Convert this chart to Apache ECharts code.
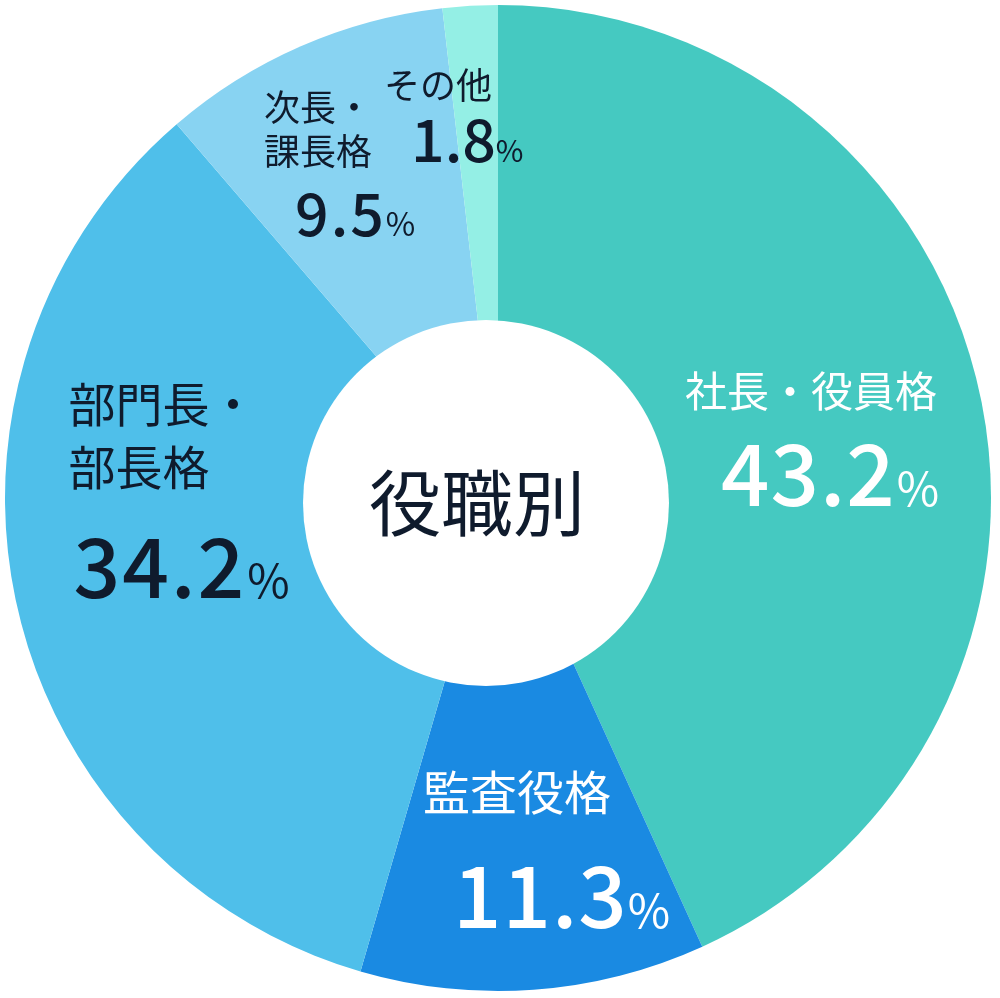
<!DOCTYPE html>
<html><head><meta charset="utf-8">
<script src="https://cdn.jsdelivr.net/npm/echarts@6/dist/echarts.min.js"></script>
<style>html,body{margin:0;padding:0;background:#fff}#c{width:1000px;height:998px}</style>
</head><body><div id="c"></div>
<script>
// ---- data ----
const categories = ['社長・役員格', '監査役格', '部門長・部長格', '次長・課長格', 'その他'];
const labelLines = [['社長・役員格'], ['監査役格'], ['部門長・', '部長格'], ['次長・', '課長格'], ['その他']];
const shares = [43.2, 11.3, 34.2, 9.5, 1.8];
const centerTitle = '役職別';
const percentSign = '%';

// ---- styles ----
const sliceColors = ['#45C9C1', '#1A8AE2', '#4FBFEA', '#88D3F2', '#94EFE5'];
const FONT = '"Noto Sans CJK JP", "Noto Sans", sans-serif';
const PCT_FONT = '"Liberation Sans Narrow", "Noto Sans CJK JP", sans-serif';
const DARK = '#0f1b2d';
const labelStyle = [
  {x: 685, y: 366.5, color: '#ffffff', nameSize: 42, nameLH: 50, valSize: 85, valLH: 115, indent: 36, pctSize: 46, ls: 1, pgap: 1},
  {x: 423, y: 764.5, color: '#ffffff', nameSize: 47, nameLH: 56, valSize: 85, valLH: 151, indent: 30, pctSize: 46, ls: 1, pgap: 0},
  {x: 68.5, y: 372.5, color: DARK, nameSize: 47, nameLH: 63, valSize: 82, valLH: 137, indent: 5, pctSize: 46, ls: 2, pgap: 1},
  {x: 264, y: 85.5, color: DARK, nameSize: 36, nameLH: 44, valSize: 59, valLH: 80, indent: 31, pctSize: 32, ls: 2, pgap: 0},
  {x: 384, y: 63, color: DARK, nameSize: 36, nameLH: 44, valSize: 59, valLH: 66, indent: 27, pctSize: 30, ls: 0, pgap: 0}
];

function richFor(s) {
  const dy = 0.365 * (s.valSize - s.pctSize);
  return {
    n: {fontSize: s.nameSize, lineHeight: s.nameLH, color: s.color, fontFamily: FONT},
    v0: {fontSize: s.valSize, lineHeight: s.valLH, color: s.color, fontFamily: FONT, fontWeight: 500, padding: [0, s.ls, 0, s.indent]},
    v: {fontSize: s.valSize, lineHeight: s.valLH, color: s.color, fontFamily: FONT, fontWeight: 500, padding: [0, s.ls, 0, 0]},
    p: {fontSize: s.pctSize, lineHeight: s.pctSize, color: s.color, fontFamily: PCT_FONT, padding: [2 * dy, 0, 0, s.pgap]}
  };
}

const pieData = categories.map((c, i) => ({
  name: c,
  value: shares[i],
  itemStyle: {color: sliceColors[i]},
  label: {rich: richFor(labelStyle[i])}
}));

const chart = echarts.init(document.getElementById('c'), null, {renderer: 'canvas'});
chart.setOption({
  animation: false,
  series: [
    {
      type: 'pie',
      center: [498, 498],
      radius: [0, 493],
      startAngle: 90,
      clockwise: true,
      avoidLabelOverlap: false,
      silent: true,
      itemStyle: {borderWidth: 0},
      label: {
        show: true,
        position: 'inside',
        formatter: function (p) {
          const i = p.dataIndex;
          const nameStr = labelLines[i].map(t => '{n|' + t + '}').join('\n');
          const chars = shares[i].toFixed(1).split('');
          const valStr = chars.map((ch, k) => '{' + (k === 0 ? 'v0' : 'v') + '|' + ch + '}').join('');
          return nameStr + '\n' + valStr + '{p|' + percentSign + '}';
        }
      },
      labelLine: {show: false},
      labelLayout: function (params) {
        const s = labelStyle[params.dataIndex];
        return {x: s.x, y: s.y, align: 'left', verticalAlign: 'top'};
      },
      data: pieData
    },
    {
      type: 'pie',
      center: [486, 503],
      radius: [0, 183],
      silent: true,
      z: 3,
      itemStyle: {color: '#ffffff'},
      label: {
        show: true,
        position: 'center',
        formatter: centerTitle,
        fontSize: 72,
        color: DARK,
        fontFamily: FONT,
        offset: [-9, 0]
      },
      labelLine: {show: false},
      data: [{name: centerTitle, value: 1}]
    }
  ]
});
</script>
</body></html>
